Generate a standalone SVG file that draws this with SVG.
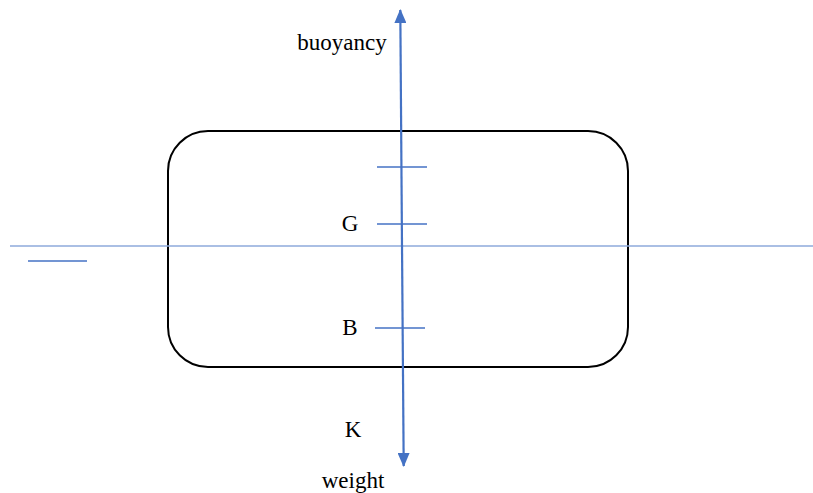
<svg xmlns="http://www.w3.org/2000/svg" width="813" height="493" viewBox="0 0 813 493">
<style>
text{font-family:"Liberation Serif","Times New Roman",serif;font-size:23px;fill:#000;text-anchor:middle}
.tick{stroke:#4472c4;stroke-width:1.3}
</style>
<defs>
<marker id="ah" markerWidth="14" markerHeight="12" refX="13" refY="6" orient="auto" markerUnits="userSpaceOnUse" viewBox="0 0 14 12">
<path d="M0,0 L14,6 L0,12 z" fill="#4472c4"/>
</marker>
</defs>
<rect width="813" height="493" fill="#fff"/>
<g id="hull"><rect x="168" y="131" width="460" height="236" rx="40" ry="40" fill="none" stroke="#000" stroke-width="2"/></g>
<g id="waterline"><line x1="10" y1="246" x2="813" y2="246" stroke="#8eaadb" stroke-width="1.5"/></g>
<g id="legend"><line x1="28" y1="261" x2="87" y2="261" stroke="#4472c4" stroke-width="1.3"/></g>
<g id="connectors">
<line x1="402" y1="245" x2="400.3" y2="10" stroke="#4472c4" stroke-width="2.2" marker-end="url(#ah)"/>
<line x1="402" y1="245" x2="403.7" y2="466" stroke="#4472c4" stroke-width="2.2" marker-end="url(#ah)"/>
</g>
<g id="ticks">
<line class="tick" x1="377" y1="167" x2="427" y2="167"/>
<line class="tick" x1="377" y1="224" x2="427" y2="224"/>
<line class="tick" x1="375" y1="328" x2="425" y2="328"/>
</g>
<g id="labels">
<text x="342" y="50">buoyancy</text>
<text x="350" y="231">G</text>
<text x="350" y="335">B</text>
<text x="353" y="437">K</text>
<text x="353" y="488">weight</text>
</g>
</svg>
